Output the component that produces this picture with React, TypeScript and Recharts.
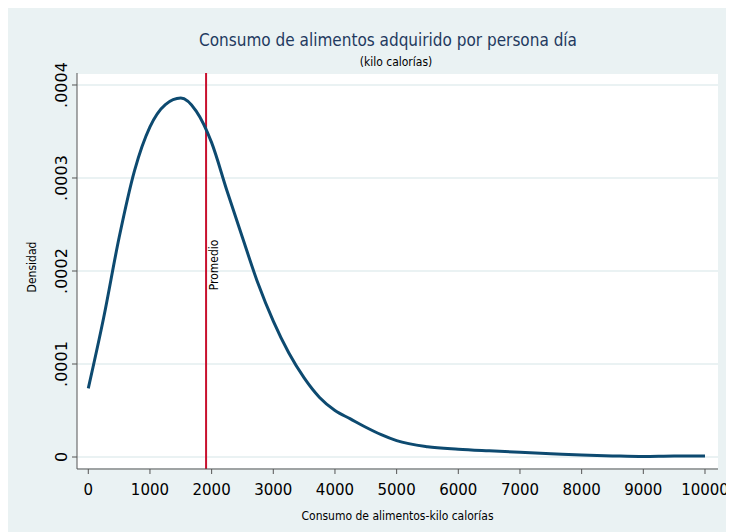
import React from 'react';
import { LineChart, Line, XAxis, YAxis, CartesianGrid, ReferenceLine } from 'recharts';

// kcal per person per day (x) and kernel density (y)
const kcal = [
  0, 250, 500, 750, 1000, 1250, 1500, 1750, 2000, 2250, 2500, 2750, 3000, 3250, 3500, 3750, 4000,
  4250, 4500, 4750, 5000, 5500, 6000, 6500, 7000, 7500, 8000, 8500, 9000, 9500, 10000,
];
const densidad = [
  0.0000738, 0.000150, 0.000236, 0.000308, 0.000355, 0.000379, 0.000386, 0.000372, 0.000338,
  0.000286, 0.000236, 0.000187, 0.000146, 0.000112, 0.000085, 0.000064, 0.000050,
  0.000041, 0.000032, 0.000024, 0.0000176, 0.0000111, 0.0000084, 0.0000066, 0.0000050,
  0.0000036, 0.0000022, 0.0000012, 0.0000005, 0.0000011, 0.0000010,
];
const xTicks = [0, 1000, 2000, 3000, 4000, 5000, 6000, 7000, 8000, 9000, 10000];
const yTicks = [0, 0.0001, 0.0002, 0.0003, 0.0004];
const promedio = 1910;

const data = kcal.map((k, i) => ({ kcal: k, dens: densidad[i] }));

const FONT = "'Liberation Sans Narrow', 'DejaVu Sans Condensed', 'Liberation Sans', Arial, sans-serif";
const NAVY = '#0d4a70';
const BG = '#eaf2f3';

const fmtY = (v: number) => (v === 0 ? '0' : v.toFixed(4).replace(/^0/, ''));

const YTick = (props: any) => {
  const { x, y, payload } = props;
  return (
    <text
      transform={`translate(${x - 3},${y}) rotate(-90)`}
      textAnchor="middle"
      fontSize={16}
      fontFamily="'DejaVu Sans', sans-serif"
      fill="#000"
    >
      {fmtY(payload.value)}
    </text>
  );
};

const YTitle = (props: any) => {
  const { viewBox } = props;
  const cy = viewBox.y + viewBox.height / 2;
  return (
    <text transform={`translate(${28},${cy - 4}) rotate(-90)`} textAnchor="middle" fontSize={12} fontFamily={FONT} fill="#000">
      Densidad
    </text>
  );
};

const PromLabel = (props: any) => {
  const { viewBox } = props;
  return (
    <text transform={`translate(${viewBox.x + 12},${257}) rotate(-90)`} textAnchor="middle" fontSize={12} fontFamily={FONT} fill="#000">
      Promedio
    </text>
  );
};

export default function App() {
  return (
    <div style={{ position: 'relative', width: 726, height: 524, background: BG, overflow: 'hidden' }}>
      <div
        style={{
          position: 'absolute', left: 0, top: 22, width: 760, textAlign: 'center',
          fontFamily: FONT, fontSize: 17, color: '#1f3a5f', lineHeight: '20px',
        }}
      >
        Consumo de alimentos adquirido por persona día
      </div>
      <div
        style={{
          position: 'absolute', left: 0, top: 46, width: 776, textAlign: 'center',
          fontFamily: FONT, fontSize: 12, color: '#000', lineHeight: '16px',
        }}
      >
        (kilo calorías)
      </div>
      <LineChart
        width={726}
        height={524}
        data={data}
        margin={{ top: 65, right: 16, left: 0, bottom: 0 }}
        style={{ position: 'absolute', left: 0, top: 0 }}
      >
        <CartesianGrid
          vertical={false}
          stroke={BG}
          strokeWidth={2}
          fill="#ffffff"
          fillOpacity={1}
        />
        <XAxis
          dataKey="kcal"
          type="number"
          domain={[-183, 10211]}
          ticks={xTicks}
          allowDataOverflow
          height={63}
          tickSize={5}
          tickMargin={10}
          stroke="#555"
          tick={{ fontSize: 15, fill: '#000', fontFamily: "'DejaVu Sans', sans-serif" }}
          label={{ value: 'Consumo de alimentos-kilo calorías', position: 'insideBottom', offset: 12, fontSize: 12, fill: '#000', fontFamily: FONT }}
        />
        <YAxis
          type="number"
          domain={[-0.0000129, 0.0004129]}
          ticks={yTicks}
          allowDataOverflow
          width={69}
          tickSize={5}
          tickMargin={2}
          stroke="#555"
          tick={<YTick />}
          label={<YTitle />}
        />
        <ReferenceLine x={promedio} stroke="#c8102e" strokeWidth={2} label={<PromLabel />} />
        <Line
          type="monotone"
          dataKey="dens"
          stroke={NAVY}
          strokeWidth={3}
          dot={false}
          isAnimationActive={false}
        />
      </LineChart>
    </div>
  );
}
